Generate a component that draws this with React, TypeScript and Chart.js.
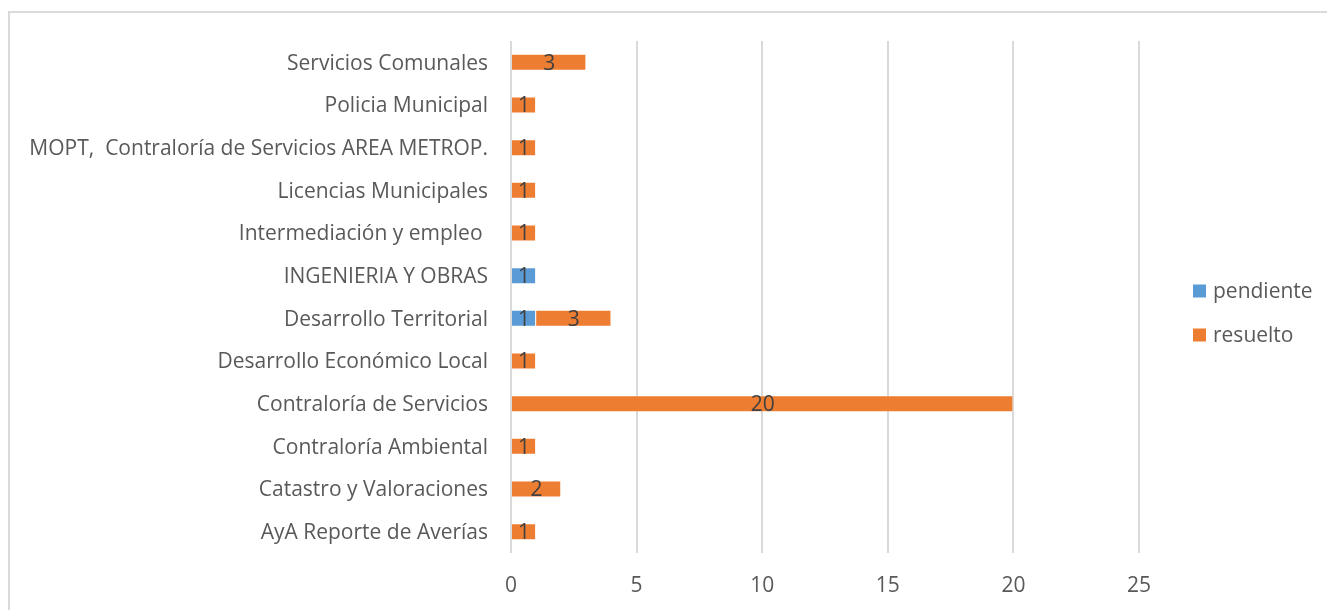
import React, { useEffect, useRef } from 'react';
import { Chart, registerables } from 'chart.js';

Chart.register(...registerables);

const categories = [
  'Servicios Comunales',
  'Policia Municipal',
  'MOPT,  Contraloría de Servicios AREA METROP.',
  'Licencias Municipales',
  'Intermediación y empleo ',
  'INGENIERIA Y OBRAS',
  'Desarrollo Territorial',
  'Desarrollo Económico Local',
  'Contraloría de Servicios',
  'Contraloría Ambiental',
  'Catastro y Valoraciones',
  'AyA Reporte de Averías',
];

const seriesNames = ['pendiente', 'resuelto'];
const pendiente = [null, null, null, null, null, 1, 1, null, null, null, null, null];
const resuelto = [3, 1, 1, 1, 1, null, 3, 1, 20, 1, 2, 1];
const seriesColors = ['#5B9BD5', '#ED7D31'];

const xMin = 0;
const xMax = 25;
const xStep = 5;

const FONT = '"Open Sans", sans-serif';
const FONT_SIZE = 21;
const TEXT_COLOR = '#595959';
const LABEL_COLOR = '#404040';
const GRID_COLOR = '#d9d9d9';

const framePlugin = {
  id: 'frame',
  beforeDraw(chart: any) {
    const ctx = chart.ctx;
    ctx.save();
    ctx.fillStyle = '#ffffff';
    ctx.fillRect(0, 0, chart.width, chart.height);
    ctx.strokeStyle = GRID_COLOR;
    ctx.lineWidth = 2;
    ctx.strokeRect(9, 12, chart.width + 20, chart.height + 20);
    ctx.restore();
  },
};

const valueLabelPlugin = {
  id: 'valueLabels',
  afterDatasetsDraw(chart: any) {
    const ctx = chart.ctx;
    ctx.save();
    ctx.font = `${FONT_SIZE}px ${FONT}`;
    ctx.fillStyle = LABEL_COLOR;
    ctx.textAlign = 'center';
    ctx.textBaseline = 'middle';
    chart.data.datasets.forEach((ds: any, di: number) => {
      const meta = chart.getDatasetMeta(di);
      meta.data.forEach((el: any, i: number) => {
        const v = ds.data[i];
        if (v === null || v === undefined || v === 0) return;
        const c = el.getCenterPoint();
        ctx.fillText(String(v), c.x, c.y + 1.5);
      });
    });
    ctx.restore();
  },
};

const legendPlugin = {
  id: 'customLegend',
  afterDraw(chart: any) {
    const ctx = chart.ctx;
    const area = chart.chartArea;
    const x0 = area.right + 54;
    const yStart = area.top + 250;
    const gap = 44;
    ctx.save();
    ctx.font = `${FONT_SIZE}px ${FONT}`;
    ctx.textAlign = 'left';
    ctx.textBaseline = 'middle';
    chart.data.datasets.forEach((ds: any, i: number) => {
      const cy = yStart + i * gap;
      ctx.fillStyle = ds.backgroundColor;
      ctx.fillRect(x0, cy - 6.5, 13, 13);
      ctx.fillStyle = TEXT_COLOR;
      ctx.fillText(ds.label, x0 + 20, cy + 1);
    });
    ctx.restore();
  },
};

export default function App() {
  const canvasRef = useRef<HTMLCanvasElement | null>(null);

  useEffect(() => {
    if (!canvasRef.current) return;
    const chart = new Chart(canvasRef.current, {
      type: 'bar',
      data: {
        labels: categories,
        datasets: [
          {
            label: seriesNames[0],
            data: pendiente,
            backgroundColor: seriesColors[0],
            borderColor: 'rgba(255,255,255,0.35)',
            borderWidth: 1,
            categoryPercentage: 1,
            barPercentage: 0.4,
          },
          {
            label: seriesNames[1],
            data: resuelto,
            backgroundColor: seriesColors[1],
            borderColor: 'rgba(255,255,255,0.35)',
            borderWidth: 1,
            categoryPercentage: 1,
            barPercentage: 0.4,
          },
        ],
      },
      options: {
        indexAxis: 'y',
        responsive: false,
        animation: false,
        layout: { padding: { top: 41, right: 188, left: 0, bottom: 0 } },
        plugins: {
          legend: { display: false },
          tooltip: { enabled: false },
        },
        scales: {
          x: {
            stacked: true,
            min: xMin,
            max: xMax,
            ticks: {
              stepSize: xStep,
              color: TEXT_COLOR,
              font: { family: FONT, size: FONT_SIZE },
              padding: 20,
            },
            grid: { color: GRID_COLOR, lineWidth: 2, drawTicks: false },
            border: { display: false },
            afterFit(scale: any) {
              scale.height = 57;
            },
          },
          y: {
            stacked: true,
            ticks: {
              color: TEXT_COLOR,
              font: { family: FONT, size: FONT_SIZE },
              padding: 23,
              labelOffset: 1.5,
              autoSkip: false,
            },
            grid: { display: false, drawTicks: false },
            border: { display: false },
            afterFit(scale: any) {
              scale.width = 511;
            },
          },
        },
      },
      plugins: [framePlugin, valueLabelPlugin, legendPlugin],
    } as any);
    return () => chart.destroy();
  }, []);

  return (
    <div style={{ position: 'absolute', left: 0, top: 0, width: 1327, height: 610, overflow: 'hidden' }}>
      <canvas ref={canvasRef} width={1327} height={610} style={{ display: 'block' }} />
    </div>
  );
}
